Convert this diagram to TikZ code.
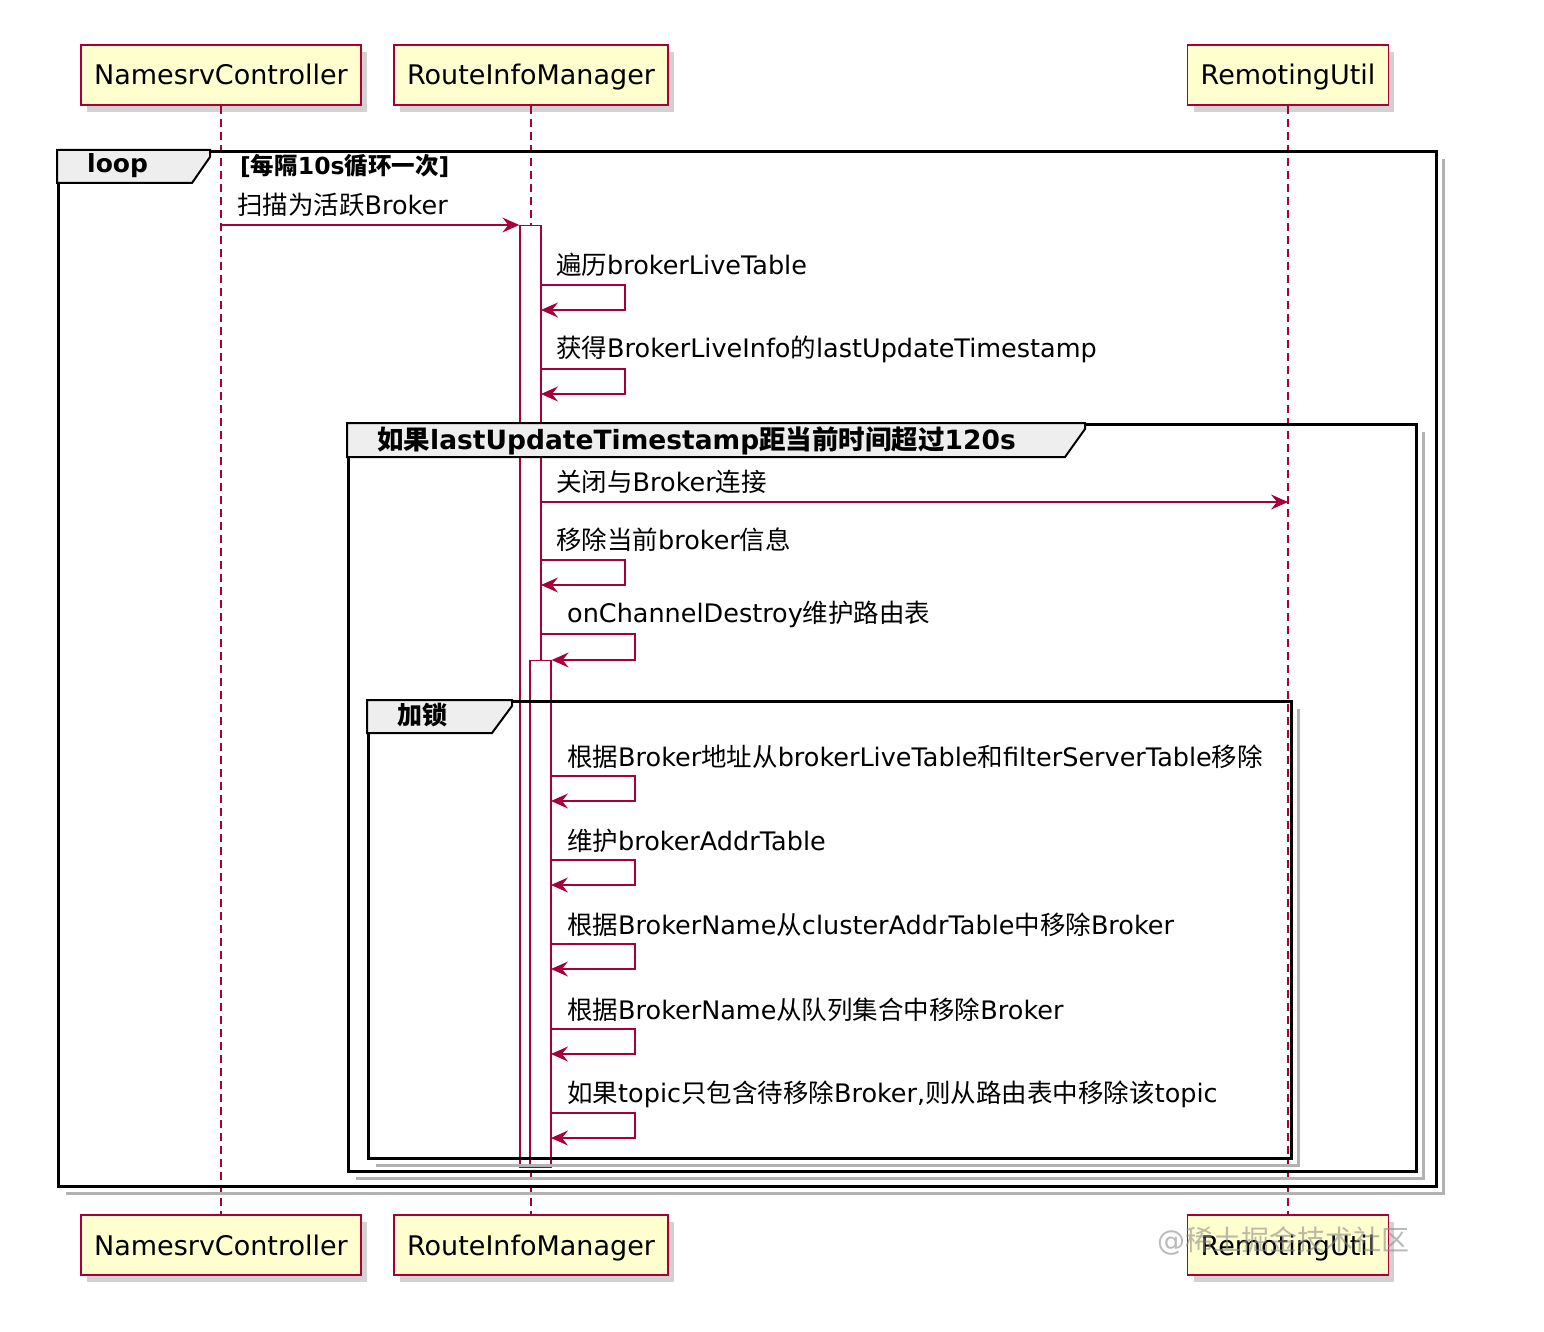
\documentclass[tikz,border=0pt]{standalone}
\usepackage{fontspec}
\setmainfont{DejaVu Sans}
\newfontfamily\cjk{Noto Sans CJK SC}
\usepackage{tikz}
\usetikzlibrary{arrows.meta, positioning, shadows}
\definecolor{umlred}{HTML}{A80036}
\definecolor{umlbox}{HTML}{FEFECE}
\definecolor{umltab}{HTML}{EEEEEE}
\newcommand{\zh}[1]{{\cjk #1}}
\tikzset{
  party/.style={rectangle, draw=umlred, line width=1.5pt, fill=umlbox,
                minimum height=60pt, inner xsep=13pt,
                text height=23pt, text depth=3pt,
                font=\fontsize{27}{30}\selectfont,
                drop shadow={shadow xshift=6pt, shadow yshift=-7pt,
                             fill=black!35, opacity=.5}},
  life/.style={umlred, line width=1.3pt, dash pattern=on 8pt off 5pt},
  actbar/.style={rectangle, draw=umlred, line width=1.3pt, fill=white,
                 minimum width=21pt, inner sep=0pt, anchor=north},
  msg/.style={umlred, line width=1.5pt,
              -{Stealth[length=17pt, width=15pt, inset=6pt]}},
  msgtext/.style={anchor=west, inner sep=0pt,
                  font=\fontsize{25.5}{28}\selectfont},
  umlframe/.style={rectangle, draw=black, line width=3pt, anchor=north west,
                   inner sep=0pt},
  fshadow/.style={draw=black!30, line width=3pt},
  tab/.style={draw=black, line width=2pt, fill=umltab},
  tabtext/.style={anchor=west, inner sep=0pt,
                  font=\bfseries\fontsize{25}{28}\selectfont},
}

\begin{document}
\begin{tikzpicture}[x=1pt, y=-1pt]
  \fill[white] (0,0) rectangle (1544,1332);
  \useasboundingbox (0,0) rectangle (1544,1332);

  % participants
  \node[party] (nc) at (221,75) {NamesrvController};
  \node[party] (rim) at (531,75) {RouteInfoManager};
  \node[party] (ru) at (1288,75) {RemotingUtil};
  \node[party] (ncb) at (221,1245) {NamesrvController};
  \node[party] (rimb) at (531,1245) {RouteInfoManager};
  \node[party] (rub) at (1288,1245) {RemotingUtil};
  \draw[life] (nc.south) -- (ncb.north);
  \draw[life] (rim.south) -- (rimb.north);
  \draw[life] (ru.south) -- (rub.north);

  % activations
  \node[actbar, minimum height=942pt] (act1) at (530.5,225) {};
  \node[actbar, minimum height=507pt] (act2) at (540.5,660) {};

  % loop frame
  \node[umlframe, minimum width=1378pt, minimum height=1035pt] (loopf) at (57,150) {};
  \draw[tab] (loopf.north west) -- ++(153,0) -- ++(0,7) -- ++(-18,26) -- ++(-135,0) -- cycle;
  \node[tabtext] (loopt) at (87,166) {loop};
  \node[tabtext, font=\bfseries\fontsize{23.5}{26}\selectfont] (loopg) at (240,166)
    {[\zh{每隔}10s\zh{循环一次}]};

  % alt frame
  \node[umlframe, minimum width=1068pt, minimum height=747pt] (altf) at (347,423) {};
  \draw[tab] (altf.north west) -- ++(738,0) -- ++(0,6) -- ++(-20,28) -- ++(-718,0) -- cycle;
  \node[tabtext, font=\bfseries\fontsize{26.5}{28}\selectfont] (altt) at (377,441)
    {\zh{如果}lastUpdateTimestamp\zh{距当前时间超过}120s};

  % lock frame
  \node[umlframe, minimum width=923pt, minimum height=457pt] (lockf) at (367,700) {};
  \draw[tab] (lockf.north west) -- ++(145,0) -- ++(0,6) -- ++(-20,27) -- ++(-125,0) -- cycle;
  \node[tabtext] (lockt) at (397,715) {\zh{加锁}};

  \foreach \f in {loopf, altf, lockf}
    \draw[fshadow] ([shift={(5,9)}]\f.north east) |- ([shift={(9,5)}]\f.south west);

  % messages
  \draw[msg] (nc.south |- act1.north) -- (act1.north west);
  \node[msgtext] (m1) at (237,205) {\zh{扫描为活跃}Broker};

  \foreach \y/\t in {285/{\zh{遍历}brokerLiveTable},
                     369/{\zh{获得}BrokerLiveInfo\zh{的}lastUpdateTimestamp},
                     560/{\zh{移除当前}broker\zh{信息}}} {
    \coordinate (s\y) at (541,\y);
    \coordinate (e\y) at (541,\y+25);
    \draw[msg] (s\y) -- ++(84,0) |- (e\y);
    \node[msgtext] (t\y) at (556,\y-20) {\t};
  }

  \coordinate (m5e) at (1288,502);
  \draw[msg] (act1.east |- m5e) -- (m5e);
  \node[msgtext] (m5) at (556,482) {\zh{关闭与}Broker\zh{连接}};

  \coordinate (s634) at (541,634);
  \draw[msg] (s634) -- ++(94,0) |- (act2.north east);
  \node[msgtext] (t634) at (567,614) {onChannelDestroy\zh{维护路由表}};

  \foreach \y/\t in {776/{\zh{根据}Broker\zh{地址从}brokerLiveTable\zh{和}filterServerTable\zh{移除}},
                     860/{\zh{维护}brokerAddrTable},
                     944/{\zh{根据}BrokerName\zh{从}clusterAddrTable\zh{中移除}Broker},
                     1029/{\zh{根据}BrokerName\zh{从队列集合中移除}Broker},
                     1113/{\zh{如果}topic\zh{只包含待移除}Broker,\zh{则从路由表中移除该}topic}} {
    \coordinate (s\y) at (551,\y);
    \coordinate (e\y) at (551,\y+25);
    \draw[msg] (s\y) -- ++(84,0) |- (e\y);
    \node[msgtext] (t\y) at (567,\y-19) {\t};
  }

  \node[font=\fontsize{28}{30}\selectfont, text=black!45, opacity=.6] (wm) at (1283,1241)
    {@\zh{稀土掘金技术社区}};
\end{tikzpicture}
\end{document}
